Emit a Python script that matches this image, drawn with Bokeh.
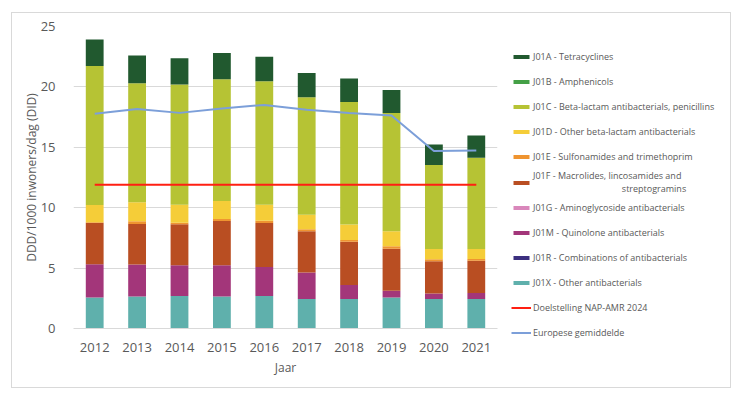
from bokeh.plotting import figure
from bokeh.models import (ColumnDataSource, Range1d, FactorRange, Legend, LegendItem)
from bokeh.embed import file_html
from bokeh.resources import INLINE

years = ["2012", "2013", "2014", "2015", "2016", "2017", "2018", "2019", "2020", "2021"]

# segment heights (DID) per ATC group
J01X = [2.56, 2.64, 2.70, 2.64, 2.70, 2.45, 2.45, 2.56, 2.45, 2.45]
J01R = [0, 0, 0, 0, 0, 0, 0, 0, 0, 0]
J01M = [2.76, 2.65, 2.54, 2.60, 2.40, 2.18, 1.16, 0.56, 0.44, 0.48]
J01G = [0, 0, 0, 0, 0, 0, 0, 0, 0, 0]
J01F = [3.42, 3.36, 3.39, 3.66, 3.64, 3.42, 3.58, 3.49, 2.68, 2.67]
J01E = [0.05, 0.23, 0.13, 0.17, 0.19, 0.16, 0.14, 0.20, 0.17, 0.16]
J01D = [1.43, 1.57, 1.49, 1.48, 1.32, 1.21, 1.27, 1.24, 0.85, 0.83]
J01C = [11.52, 9.86, 9.95, 10.09, 10.22, 9.73, 10.14, 9.78, 6.94, 7.54]
J01B = [0, 0, 0, 0, 0, 0, 0, 0, 0, 0]
J01A = [2.18, 2.29, 2.17, 2.16, 2.03, 2.01, 1.95, 1.92, 1.71, 1.85]

nap_target = [11.9] * 10
eu_average = [17.77, 18.18, 17.85, 18.21, 18.51, 18.10, 17.83, 17.64, 14.69, 14.74]

stack_keys = ["J01X", "J01R", "J01M", "J01G", "J01F", "J01E", "J01D", "J01C", "J01B", "J01A"]
stack_colors = ["#5fb0ac", "#3b2f7f", "#a3367a", "#d987bb", "#b94e22", "#ef9430",
                "#f5cd38", "#b6c334", "#44a046", "#21592f"]
NB = "\u00a0"
legend_labels = {
    "J01A": "J01A - Tetracyclines",
    "J01B": "J01B - Amphenicols",
    "J01C": "J01C - Beta-lactam antibacterials, penicillins",
    "J01D": "J01D - Other beta-lactam antibacterials",
    "J01E": "J01E - Sulfonamides and trimethoprim",
    "J01F": "J01F - Macrolides, lincosamides and\n" + NB * 38 + "streptogramins",
    "J01G": "J01G - Aminoglycoside antibacterials",
    "J01M": "J01M - Quinolone antibacterials",
    "J01R": "J01R - Combinations of antibacterials",
    "J01X": "J01X - Other antibacterials",
}
line_labels = ["Doelstelling NAP-AMR 2024", "Europese gemiddelde"]
y_ticks = [0, 5, 10, 15, 20, 25]

src = ColumnDataSource(dict(year=years, J01X=J01X, J01R=J01R, J01M=J01M, J01G=J01G,
                            J01F=J01F, J01E=J01E, J01D=J01D, J01C=J01C, J01B=J01B,
                            J01A=J01A, nap=nap_target, eu=eu_average))

FONT = "Open Sans"
GRAY = "#595959"

p = figure(frame_width=424, frame_height=302, x_range=FactorRange(*years), y_range=Range1d(0, 25),
           output_backend="svg", toolbar_location=None,
           min_border_left=61, min_border_right=0, min_border_top=13, min_border_bottom=59)
p.margin = (12, 0, 0, 11)
p.styles = {"border": "1px solid #d9d9d9", "max-width": "720px", "overflow": "hidden"}
p.outline_line_color = None
p.background_fill_color = "white"
p.border_fill_color = "white"

rs = p.vbar_stack(stack_keys, x="year", width=0.42, color=stack_colors, source=src,
                  line_color=None)
r_nap = p.line(x="year", y="nap", source=src, line_color="#ff1f12", line_width=2)
r_eu = p.line(x="year", y="eu", source=src, line_color="#7c9fd9", line_width=2)

# axes
p.yaxis.ticker = y_ticks
p.yaxis.axis_line_color = None
p.yaxis.major_tick_line_color = None
p.yaxis.minor_tick_line_color = None
p.yaxis.major_label_standoff = 12
p.yaxis.axis_label = "DDD/1000 inwoners/dag (DID)"
p.yaxis.axis_label_standoff = -2
p.xaxis.axis_label = "Jaar"
p.xaxis.axis_line_color = "#d9d9d9"
p.xaxis.major_tick_line_color = None
p.xaxis.minor_tick_line_color = None
p.xaxis.major_label_standoff = 8
p.xaxis.axis_label_standoff = 4
for ax in (p.xaxis, p.yaxis):
    ax.major_label_text_font = FONT
    ax.major_label_text_font_size = "13px"
    ax.major_label_text_color = GRAY
    ax.axis_label_text_font = FONT
    ax.axis_label_text_font_style = "normal"
    ax.axis_label_text_color = GRAY
p.yaxis.axis_label_text_font_size = "12px"
p.xaxis.axis_label_text_font_size = "12px"
p.xgrid.grid_line_color = None
p.ygrid.grid_line_color = "#d9d9d9"
p.ygrid.grid_line_width = 1

# legend
order = ["J01A", "J01B", "J01C", "J01D", "J01E", "J01F", "J01G", "J01M", "J01R", "J01X"]
items = [LegendItem(label=legend_labels[k], renderers=[rs[stack_keys.index(k)]]) for k in order]
items.append(LegendItem(label=line_labels[0], renderers=[r_nap]))
items.append(LegendItem(label=line_labels[1], renderers=[r_eu]))
legend = Legend(items=items, location="top_left", orientation="vertical",
                label_text_font=FONT, label_text_font_size="9px", label_text_color=GRAY,
                label_height=25, glyph_height=5, glyph_width=20, label_standoff=2,
                spacing=0, padding=0, margin=14, border_line_color=None,
                background_fill_alpha=0,
                title=" ", title_text_font_size="1px", title_standoff=3)
p.add_layout(legend, "right")

open("out.html", "w").write(file_html(p, INLINE))
